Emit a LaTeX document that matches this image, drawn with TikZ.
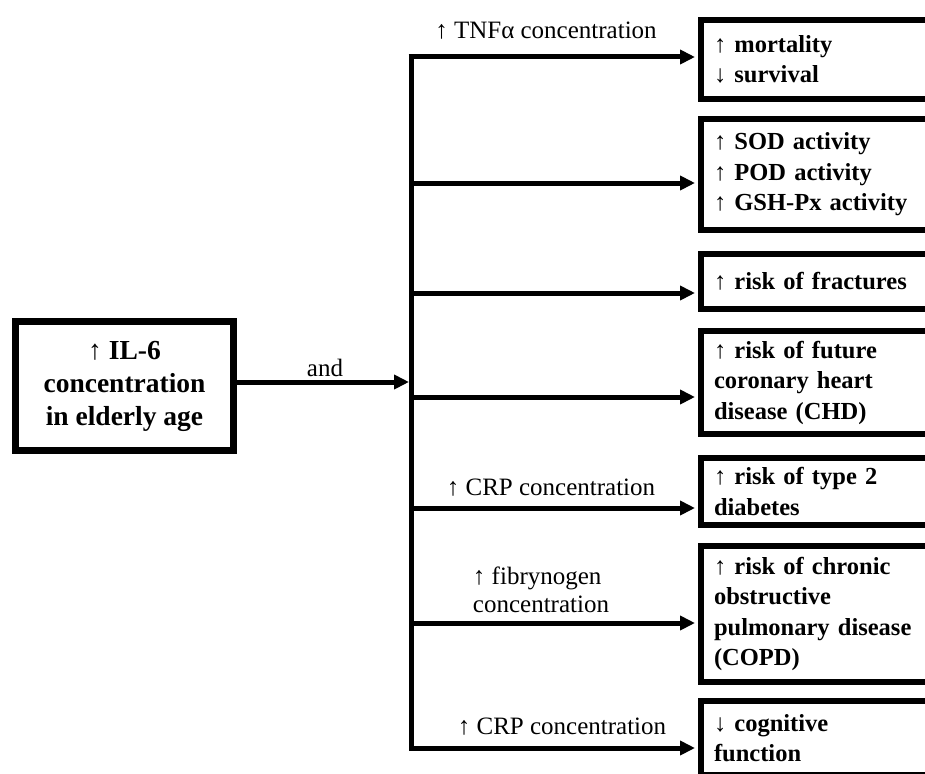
\documentclass[tikz,border=0pt]{standalone}
\usepackage{fontspec}
\setmainfont{Liberation Serif}
\usetikzlibrary{arrows.meta}
\begin{document}
\begin{tikzpicture}[x=1pt,y=-1pt,
  rbox/.style={draw, line width=6pt, anchor=north west, minimum width=242pt,
    inner xsep=13pt, inner ysep=0pt, text width=216pt, align=left,
    font=\fontsize{24.5}{30.5}\selectfont\bfseries},
  lbox/.style={draw, line width=7pt, minimum width=218pt, minimum height=129pt,
    align=center, font=\fontsize{27.5}{33}\selectfont\bfseries},
  lab/.style={font=\fontsize{25}{28.5}\selectfont, align=center},
  conn/.style={line width=5pt, miter limit=10},
  arr/.style={line width=5pt, -{Triangle[length=15pt,width=14pt]}, shorten >=3pt}]
\useasboundingbox (0,0) rectangle (925,773);
\clip (0,0) rectangle (925,773);
\fill[white] (0,0) rectangle (925,773);

\node[lbox] (il6) at (124.5,386) {↑ IL-6\\concentration\\in elderly age};

\node[rbox, minimum height=79pt]  (r1) at (698,17)  {↑ mortality\\↓ survival};
\node[rbox, minimum height=111pt] (r2) at (698,116) {↑ SOD activity\\↑ POD activity\\↑ GSH-Px activity};
\node[rbox, minimum height=55pt]  (r3) at (698,251) {↑ risk of fractures};
\node[rbox, minimum height=103pt] (r4) at (698,328) {↑ risk of future\\coronary heart\\disease (CHD)};
\node[rbox, minimum height=67pt]  (r5) at (698,455) {↑ risk of type 2\\diabetes};
\node[rbox, minimum height=136pt] (r6) at (698,543) {↑ risk of chronic\\obstructive\\pulmonary disease\\(COPD)};
\node[rbox, minimum height=74pt]  (r7) at (698,698) {↓ cognitive\\function};

\coordinate (t1) at (411,57);
\coordinate (t2) at (411,183);
\coordinate (t3) at (411,293);
\coordinate (t4) at (411,397);
\coordinate (t5) at (411,508);
\coordinate (t6) at (411,623);
\coordinate (t7) at (411,748);
\coordinate (tin) at (411,382);

\draw[conn] ([xshift=-2.5pt]t1) -- (t1) -- (t7) -- ([xshift=-2.5pt]t7);
\draw[arr] (t1) -- (t1 -| r1.west);
\draw[arr] (t2) -- (t2 -| r2.west);
\draw[arr] (t3) -- (t3 -| r3.west);
\draw[arr] (t4) -- (t4 -| r4.west);
\draw[arr] (t5) -- (t5 -| r5.west);
\draw[arr] (t6) -- (t6 -| r6.west);
\draw[arr] (t7) -- (t7 -| r7.west);
\draw[arr, shorten >=0pt] (il6.east |- tin) -- ([xshift=-2pt]tin);

\node[lab] (l0) at (325,368) {and};
\node[lab] (l1) at (546,31) {↑ TNFα concentration};
\node[lab] (l5) at (551,488) {↑ CRP concentration};
\node[lab, align=left] (l6) at (541,590) {↑ fibrynogen\\concentration};
\node[lab] (l7) at (562,727) {↑ CRP concentration};
\end{tikzpicture}
\end{document}
